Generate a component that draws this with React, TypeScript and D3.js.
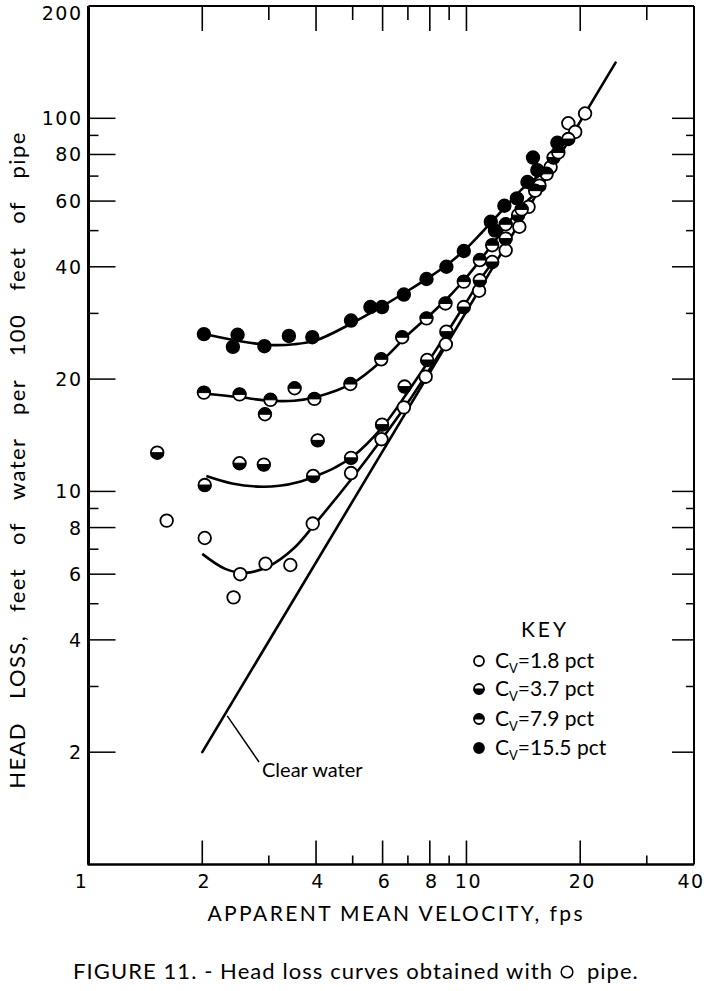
import React from 'react';
import * as d3 from 'd3';

const W = 711;
const H = 991;

// ---- axis ticks ----
const xTickLabels = [1, 2, 4, 6, 8, 10, 20, 40];
const xMajorTicks = [2, 4, 6, 8, 10, 20];
const xMinorTicks = [3, 5, 7, 9, 30];
const yTickLabels = [2, 4, 6, 8, 10, 20, 40, 60, 80, 100, 200];
const yMajorTicks = [2, 4, 6, 8, 10, 20, 40, 60, 80, 100];
const yMinorTicks = [3, 5, 7, 9, 30, 50, 70, 90];

// ---- measured points: velocity (fps) and head loss (ft / 100 ft) ----
const cv18V = [1.61, 2.03, 2.42, 2.52, 2.94, 3.42, 3.92, 4.95, 5.96, 6.83, 7.8, 8.82, 10.8, 12.7, 13.8, 14.6, 16.7, 18.6, 19.4, 20.6];
const cv18H = [8.35, 7.5, 5.2, 6.0, 6.4, 6.35, 8.2, 11.2, 13.8, 16.8, 20.3, 24.8, 34.5, 44.3, 51.2, 57.9, 74, 97, 92, 103];

const cv37V = [1.52, 2.03, 2.51, 2.91, 3.93, 4.04, 4.95, 5.98, 6.86, 7.87, 8.85, 9.84, 10.85, 11.7, 12.7, 13.7, 15.6, 17.0, 18.6];
const cv37H = [12.7, 10.4, 11.9, 11.8, 11.0, 13.7, 12.3, 15.1, 19.1, 22.5, 26.8, 31.2, 36.8, 41.2, 47.6, 55, 66, 78.5, 88];

const cv79V = [2.02, 2.51, 2.93, 3.03, 3.51, 3.96, 4.93, 5.95, 6.76, 7.84, 8.8, 9.84, 10.85, 11.7, 12.7, 14.0, 15.2, 16.3, 17.5];
const cv79H = [18.4, 18.2, 16.1, 17.6, 18.9, 17.7, 19.4, 22.6, 25.9, 29.1, 31.9, 36.5, 41.7, 45.7, 52, 57, 64, 71, 81];

const cv155V = [2.02, 2.41, 2.48, 2.92, 3.39, 3.91, 4.95, 5.57, 5.98, 6.83, 7.84, 8.85, 9.84, 11.6, 11.9, 12.6, 13.6, 14.5, 15.0, 15.4, 17.4];
const cv155H = [26.4, 24.4, 26.3, 24.5, 26.1, 25.9, 28.7, 31.2, 31.2, 33.7, 37.1, 40.0, 44.1, 52.8, 50, 58.3, 61, 67.5, 78.5, 72.6, 86];

// ---- fitted curves ----
const fit18V = [2.0, 2.3, 2.6, 3.0, 3.5, 4.0, 5.0, 6.0, 7.0, 8.0, 9.0];
const fit18H = [6.8, 6.2, 6.05, 6.3, 7.05, 8.25, 10.9, 13.9, 17.3, 21.3, 25.8];
const fit37V = [2.05, 2.4, 2.8, 3.2, 3.6, 4.0, 4.5, 5.0, 6.0, 7.0, 8.0, 9.0, 10.0, 11.0, 12.0];
const fit37H = [11.0, 10.5, 10.3, 10.35, 10.6, 11.0, 11.6, 12.4, 14.9, 18.5, 22.6, 27.2, 32.2, 37.6, 42.3];
const fit79V = [2.0, 2.5, 3.0, 3.5, 4.0, 5.0, 6.0, 7.0, 8.0, 9.0, 10.0, 11.0, 12.0, 13.0, 14.0, 15.0];
const fit79H = [18.3, 17.9, 17.5, 17.5, 17.9, 19.5, 22.5, 26.3, 29.7, 33.3, 37.5, 42.3, 47.5, 53, 58, 62];
const fit155V = [2.0, 2.5, 3.0, 3.5, 4.0, 5.0, 6.0, 7.0, 8.0, 9.0, 10.0, 11.0, 12.0, 13.0, 14.0, 15.5];
const fit155H = [26.5, 25.3, 24.7, 24.8, 25.4, 28.3, 31.4, 34.5, 37.6, 40.9, 44.8, 49.5, 54.5, 59.5, 64.5, 70];

// clear water line
const clearV = [2, 24.8];
const clearH = [2, 141];

const legendLabels = ['1.8', '3.7', '7.9', '15.5'];
const legendKinds = ['open', 'bottom', 'top', 'solid'];

const zip = (a: number[], b: number[]) => a.map((v, i) => [v, b[i]] as [number, number]);

const x = d3.scaleLog().domain([1, 40]).range([88.5, 694]);
const y = d3.scaleLog().domain([1, 200]).range([864.5, 6]);

const line = d3
  .line<[number, number]>()
  .x((d) => x(d[0]))
  .y((d) => y(d[1]))
  .curve(d3.curveCatmullRom.alpha(0.5));

const straight = d3
  .line<[number, number]>()
  .x((d) => x(d[0]))
  .y((d) => y(d[1]));

function Marker({ kind, cx, cy, r }: { kind: string; cx: number; cy: number; r: number }) {
  const sw = 1.8;
  if (kind === 'solid') return <circle cx={cx} cy={cy} r={r} fill="#000" stroke="#000" strokeWidth={sw} />;
  if (kind === 'open') return <circle cx={cx} cy={cy} r={r} fill="#fff" stroke="#000" strokeWidth={sw} />;
  const sweep = kind === 'top' ? 1 : 0;
  return (
    <g>
      <circle cx={cx} cy={cy} r={r} fill="#fff" stroke="#000" strokeWidth={sw} />
      <path d={`M${cx - r},${cy} A${r},${r} 0 0 ${sweep} ${cx + r},${cy} Z`} fill="#000" stroke="#000" strokeWidth={1} />
    </g>
  );
}

const tickFont = "'DejaVu Sans', sans-serif";
const textFont = "Lato, 'DejaVu Sans', sans-serif";

export default function App() {
  const series = [
    { kind: 'open', pts: zip(cv18V, cv18H) },
    { kind: 'bottom', pts: zip(cv37V, cv37H) },
    { kind: 'top', pts: zip(cv79V, cv79H) },
    { kind: 'solid', pts: zip(cv155V, cv155H) },
  ];
  const fits = [zip(fit18V, fit18H), zip(fit37V, fit37H), zip(fit79V, fit79H), zip(fit155V, fit155H)];
  const x0 = x(1), x1 = x(40), y0 = y(1), y1 = y(200);
  const cwLeader: [number, number] = [x(2.3), y(2 * Math.pow(2.3 / 2, 1.69))];

  return (
    <svg width={W} height={H} style={{ position: 'absolute', left: 0, top: 0, background: '#fff' }}>
      <rect x={0} y={0} width={W} height={H} fill="#fff" />
      {/* frame */}
      <line x1={x0} y1={y1} x2={x0} y2={y0} stroke="#000" strokeWidth={3} />
      <line x1={x0 - 1} y1={y0} x2={x1} y2={y0} stroke="#000" strokeWidth={2.5} />
      <line x1={x0} y1={y1} x2={x1} y2={y1} stroke="#000" strokeWidth={2} />
      <line x1={x1} y1={y1} x2={x1} y2={y0} stroke="#000" strokeWidth={2} />

      {/* x ticks */}
      {xMajorTicks.map((v) => (
        <g key={'xm' + v}>
          <line x1={x(v)} x2={x(v)} y1={y0} y2={y0 - 24} stroke="#000" strokeWidth={1.6} />
          <line x1={x(v)} x2={x(v)} y1={y1} y2={y1 + 25} stroke="#000" strokeWidth={1.6} />
        </g>
      ))}
      {xMinorTicks.map((v) => (
        <g key={'xn' + v}>
          <line x1={x(v)} x2={x(v)} y1={y0} y2={y0 - 9} stroke="#000" strokeWidth={1.6} />
          <line x1={x(v)} x2={x(v)} y1={y1} y2={y1 + 14} stroke="#000" strokeWidth={1.6} />
        </g>
      ))}
      {/* y ticks */}
      {yMajorTicks.map((v) => (
        <g key={'ym' + v}>
          <line x1={x0} x2={x0 + 27} y1={y(v)} y2={y(v)} stroke="#000" strokeWidth={1.5} />
          <line x1={x1} x2={x1 - 22} y1={y(v)} y2={y(v)} stroke="#000" strokeWidth={1.5} />
        </g>
      ))}
      {yMinorTicks.map((v) => (
        <g key={'yn' + v}>
          <line x1={x0} x2={x0 + 10} y1={y(v)} y2={y(v)} stroke="#000" strokeWidth={1.5} />
          <line x1={x1} x2={x1 - 8} y1={y(v)} y2={y(v)} stroke="#000" strokeWidth={1.5} />
        </g>
      ))}

      {/* tick labels */}
      {xTickLabels.map((v) => (
        <text key={'xl' + v} x={x(v) + (v === 1 ? -7 : v === 40 ? -3 : 2)} y={888} textAnchor="middle"
          fontFamily={tickFont} fontSize={19} letterSpacing={1.5}>
          {v}
        </text>
      ))}
      {yTickLabels.map((v) => (
        <text key={'yl' + v} x={x0 - 6} y={Math.max(y(v), 13) + 7} textAnchor="end"
          fontFamily={tickFont} fontSize={19} letterSpacing={1.5}>
          {v}
        </text>
      ))}

      {/* axis titles */}
      <text x={395} y={921} textAnchor="middle" fontFamily={textFont} fontSize={21}
        textLength={375} lengthAdjust="spacing">
        APPARENT MEAN VELOCITY, fps
      </text>
      <text transform="translate(25,460) rotate(-90)" textAnchor="middle" fontFamily={textFont} fontSize={22}
        letterSpacing={1.4} wordSpacing={16}>
        HEAD LOSS, feet of water per 100 feet of pipe
      </text>

      {/* clear water line */}
      <path d={straight(zip(clearV, clearH)) || ''} fill="none" stroke="#000" strokeWidth={2.6} strokeLinecap="round" />
      <line x1={cwLeader[0] + 2} y1={cwLeader[1] + 2} x2={259} y2={762} stroke="#000" strokeWidth={1.5} />
      <text x={262} y={777} fontFamily={textFont} fontSize={20}>
        Clear water
      </text>

      {/* fitted curves */}
      {fits.map((f, i) => (
        <path key={'f' + i} d={line(f) || ''} fill="none" stroke="#000" strokeWidth={2.6} />
      ))}

      {/* data points */}
      {series.map((s) =>
        s.pts.map((p, j) => <Marker key={s.kind + j} kind={s.kind} cx={x(p[0])} cy={y(p[1])} r={6.3} />)
      )}

      {/* legend */}
      <text x={545} y={637} textAnchor="middle" fontFamily={textFont} fontSize={21} letterSpacing={3}>
        KEY
      </text>
      {legendLabels.map((lab, i) => {
        const cy = [661, 689, 719, 748][i];
        return (
          <g key={'lg' + i}>
            <Marker kind={legendKinds[i]} cx={479} cy={cy} r={5} />
            <text x={495} y={cy + 7} fontFamily={textFont} fontSize={21}>
              C
              <tspan fontSize={13} dy={5}>V</tspan>
              <tspan dy={-5}>{`=${lab} pct`}</tspan>
            </text>
          </g>
        );
      })}

      {/* caption */}
      <text x={73} y={979} fontFamily={textFont} fontSize={22} textLength={479} lengthAdjust="spacing">
        FIGURE 11. - Head loss curves obtained with
      </text>
      <circle cx={567} cy={972} r={5.8} fill="none" stroke="#000" strokeWidth={1.5} />
      <text x={587} y={979} fontFamily={textFont} fontSize={22} letterSpacing={1}>
        pipe.
      </text>
    </svg>
  );
}
